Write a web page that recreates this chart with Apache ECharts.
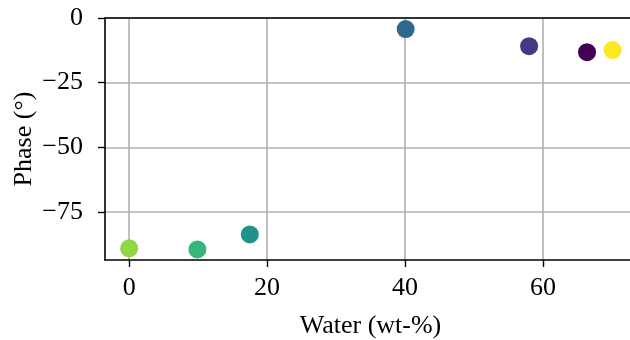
<!DOCTYPE html>
<html>
<head>
<meta charset="utf-8">
<script src="https://cdn.jsdelivr.net/npm/echarts@6/dist/echarts.min.js"></script>
<style>
  html, body { margin: 0; padding: 0; background: #fff; overflow: hidden; }
  #chart { width: 630px; height: 340px; }
</style>
</head>
<body>
<div id="chart"></div>
<script>
// 数据：含水量 (wt-%) 与相位 (°)
var water = [0, 9.9, 17.5, 40.1, 58.0, 66.4, 70.1];
var phase = [-89.1, -89.5, -83.7, -4.3, -10.9, -13.2, -12.4];
// 每个点的颜色 (viridis)
var pointColors = ['#8fd744', '#35b779', '#21918c', '#31688e', '#443983', '#440154', '#fde725'];
var xTicks = [0, 20, 40, 60];
var yTicks = [0, -25, -50, -75];

var FONT = '"Liberation Serif", "DejaVu Serif", serif';

var chart = echarts.init(document.getElementById('chart'));

var points = [];
for (var i = 0; i < water.length; i++) {
  points.push({
    value: [water[i], phase[i]],
    itemStyle: { color: pointColors[i], opacity: 1 }
  });
}

function minusFmt(v) {
  return String(v).replace('-', '\u2212');
}

chart.setOption({
  animation: false,
  grid: {
    left: 105, right: -6, top: 18, bottom: 80,
    outerBoundsMode: 'none', containLabel: false
  },
  xAxis: [{
    type: 'value',
    min: -3.5, max: 73.5,
    name: 'Water (wt-%)',
    nameLocation: 'middle',
    nameGap: 53,
    nameMoveOverlap: false,
    nameTextStyle: { fontFamily: FONT, fontSize: 26, color: '#000' },
    axisLine: { show: true, onZero: false, lineStyle: { color: '#000', width: 1.6 } },
    axisTick: { show: true, length: 7, customValues: xTicks, lineStyle: { color: '#000', width: 1.4 } },
    axisLabel: { customValues: xTicks, margin: 15, fontFamily: FONT, fontSize: 26, color: '#000' },
    splitLine: { show: true, lineStyle: { color: '#b0b0b0', width: 1.6 } }
  }, {
    // 顶部边框线
    type: 'value',
    position: 'top',
    min: -3.5, max: 73.5,
    axisLine: { show: true, onZero: false, lineStyle: { color: '#000', width: 1.6 } },
    axisTick: { show: false },
    axisLabel: { show: false },
    splitLine: { show: false }
  }],
  yAxis: {
    type: 'value',
    min: -93.6, max: 0,
    name: 'Phase (°)',
    nameLocation: 'middle',
    nameGap: 68,
    nameMoveOverlap: false,
    nameTextStyle: { fontFamily: FONT, fontSize: 26, color: '#000' },
    axisLine: { show: true, onZero: false, lineStyle: { color: '#000', width: 1.6 } },
    axisTick: { show: true, length: 7, customValues: yTicks, lineStyle: { color: '#000', width: 1.4 } },
    axisLabel: { customValues: yTicks, margin: 22, fontFamily: FONT, fontSize: 26, color: '#000', formatter: minusFmt },
    splitLine: { show: true, lineStyle: { color: '#b0b0b0', width: 1.6 } }
  },
  series: [{
    type: 'scatter',
    symbolSize: 18,
    itemStyle: { opacity: 1 },
    data: points
  }]
});
</script>
</body>
</html>
